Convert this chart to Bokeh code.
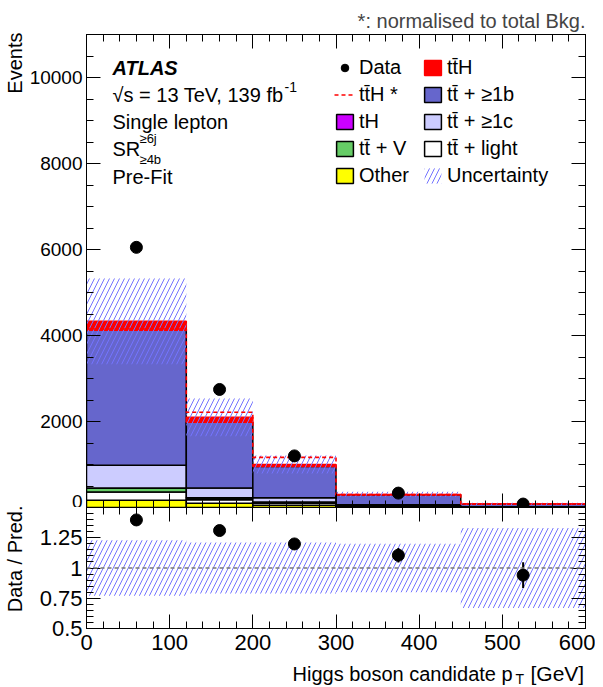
import numpy as np
from bokeh.plotting import figure
from bokeh.layouts import column, row
from bokeh.models import (ColumnDataSource, Range1d, LinearAxis, SingleIntervalTicker,
                          FixedTicker, Label, Legend, LegendItem, Span, Title)
from bokeh.embed import file_html
from bokeh.resources import INLINE

# ---------------- data ----------------
edges = [0, 120, 200, 300, 450, 600]
other = [170, 100, 50, 15, 4]
tt_light = [190, 80, 50, 15, 3]
ttv = [85, 40, 25, 8, 2]
th = [10, 6, 4, 2, 1]
ttc = [525, 230, 100, 25, 5]
ttb = [3140, 1525, 727, 224, 64]
tth = [210, 115, 45, 14, 6]
tth_star = [4150, 2214, 1165, 300, 82]
data = [6050, 2745, 1200, 335, 80]
data_err = [78, 52, 35, 18, 9]
unc_rel = [0.23, 0.21, 0.21, 0.20, 0.33]

FONT = "Liberation Sans"
HATCH = "#7373ff"

left = np.array(edges[:-1], dtype=float)
right = np.array(edges[1:], dtype=float)
centers = (left + right) / 2

components = [
    ("Other", other, "#ffff00", "black"),
    ("tt\u0304 + light", tt_light, "#ffffff", "black"),
    ("tt\u0304 + V", ttv, "#66cc66", "black"),
    ("tH", th, "#cc00ff", "black"),
    ("tt\u0304 + \u22651c", ttc, "#ccccff", "black"),
    ("tt\u0304 + \u22651b", ttb, "#6666cc", "black"),
    ("tt\u0304H", tth, "#ff0000", "#ff0000"),
]

STRIP = 25          # width of the left strip holding the rotated axis titles
W = 595 - STRIP     # width of the panels
FL, FR, FT, FB = 86.0, 585.0, 34.0, 507.0   # frame, page pixels (text placement only)


def mx(px):
    return (px - FL) / (FR - FL) * 600.0


def my(py):
    return (FB - py) / (FB - FT) * 11000.0


def style_axis(ax, ticker, labels, size="19px", standoff=4):
    ax.ticker = ticker
    ax.major_tick_in = 14
    ax.major_tick_out = 0
    ax.minor_tick_in = 7
    ax.minor_tick_out = 0
    ax.axis_line_color = "black"
    ax.major_tick_line_color = "black"
    ax.minor_tick_line_color = "black"
    ax.axis_line_width = 1
    if labels:
        ax.major_label_text_font = FONT
        ax.major_label_text_font_size = size
        ax.major_label_text_color = "black"
        ax.major_label_standoff = standoff
    else:
        ax.major_label_text_font_size = "0px"
        ax.major_label_text_color = None
        ax.major_label_standoff = 0


def add_text(fig, x, y, text, size="20px", style="normal", align="left", angle=0):
    fig.add_layout(Label(x=x, y=y, text=text, text_font=FONT, text_font_size=size,
                         text_font_style=style, text_align=align, text_baseline="middle",
                         text_color="black", angle=angle))


def blank(fig):
    fig.grid.visible = False
    fig.outline_line_color = None
    fig.background_fill_color = "white"
    fig.border_fill_color = "white"


# ---------------- main panel ----------------
p = figure(width=W, height=507, x_range=Range1d(0, 600), y_range=Range1d(0, 11000),
           output_backend="svg", toolbar_location=None,
           min_border_left=int(FL) - STRIP, min_border_right=10, min_border_top=34,
           min_border_bottom=0)
p.grid.visible = False
p.outline_line_color = "black"
p.background_fill_color = "white"
p.border_fill_color = "white"

xt = SingleIntervalTicker(interval=100, num_minor_ticks=5)
yt = SingleIntervalTicker(interval=2000, num_minor_ticks=4)
style_axis(p.xaxis[0], xt, False)
style_axis(p.yaxis[0], yt, True)
ax_top = LinearAxis()
style_axis(ax_top, xt, False)
p.add_layout(ax_top, "above")
ax_right = LinearAxis()
style_axis(ax_right, yt, False)
p.add_layout(ax_right, "right")

p.add_layout(Title(text="*: normalised to total Bkg.", align="right", text_font=FONT,
                   text_font_size="20px", text_font_style="normal", standoff=6), "above")

bottom = np.zeros(len(left))
renderers = {}
for name, vals, col, lcol in components:
    top = bottom + np.array(vals, dtype=float)
    src = ColumnDataSource(dict(left=left, right=right, bottom=bottom.copy(), top=top))
    rr = p.quad(left="left", right="right", bottom="bottom", top="top", source=src,
                fill_color=col, line_color=lcol, line_width=1.5)
    renderers[name] = rr
    bottom = top

pred = bottom.copy()
unc_abs = pred * np.array(unc_rel)
r_unc = p.quad(left=left, right=right, bottom=pred - unc_abs, top=pred + unc_abs,
               fill_alpha=0, line_alpha=0, hatch_pattern="/", hatch_color=HATCH,
               hatch_scale=10, hatch_weight=1)

r_star = p.step(x=edges, y=list(tth_star) + [tth_star[-1]], mode="after",
                line_color="#ff0000", line_dash="4 3", line_width=1.6)

data_arr = np.array(data, dtype=float)
err_arr = np.array(data_err, dtype=float)
p.segment(centers, data_arr - err_arr, centers, data_arr + err_arr, line_color="black", line_width=2)
r_data = p.scatter(centers, data_arr, size=12, color="black")

leg_style = dict(glyph_width=21, glyph_height=19, label_height=19, spacing=4, label_standoff=4,
                 padding=0, margin=0, border_line_alpha=0, background_fill_alpha=0,
                 label_text_font=FONT, label_text_font_size="20px", label_text_color="black")
leg1 = Legend(items=[LegendItem(label="Data", renderers=[r_data]),
                     LegendItem(label="tt\u0304H *", renderers=[r_star]),
                     LegendItem(label="tH", renderers=[renderers["tH"]]),
                     LegendItem(label="tt\u0304 + V", renderers=[renderers["tt\u0304 + V"]]),
                     LegendItem(label="Other", renderers=[renderers["Other"]])],
              location=(334 - FL, 320), **leg_style)
leg2 = Legend(items=[LegendItem(label="tt\u0304H", renderers=[renderers["tt\u0304H"]]),
                     LegendItem(label="tt\u0304 + \u22651b", renderers=[renderers["tt\u0304 + \u22651b"]]),
                     LegendItem(label="tt\u0304 + \u22651c", renderers=[renderers["tt\u0304 + \u22651c"]]),
                     LegendItem(label="tt\u0304 + light", renderers=[renderers["tt\u0304 + light"]]),
                     LegendItem(label="Uncertainty", renderers=[r_unc])],
              location=(422 - FL, 320), **leg_style)
p.add_layout(leg1)
p.add_layout(leg2)

add_text(p, mx(112), my(67), "ATLAS", style="bold italic")
add_text(p, mx(112), my(94), "\u221as = 13 TeV, 139 fb")
add_text(p, mx(284), my(86), "-1", size="14px")
add_text(p, mx(112), my(121), "Single lepton")
add_text(p, mx(112), my(148), "SR")
add_text(p, mx(139), my(138), "\u22656j", size="13px")
add_text(p, mx(139), my(159), "\u22654b", size="13px")
add_text(p, mx(112), my(176), "Pre-Fit")

# ---------------- ratio panel ----------------
r = figure(width=W, height=153, x_range=p.x_range, y_range=Range1d(0.5, 1.5),
           output_backend="svg", toolbar_location=None,
           min_border_left=int(FL) - STRIP, min_border_right=10, min_border_top=0,
           min_border_bottom=32)
r.grid.visible = False
r.outline_line_color = "black"
r.background_fill_color = "white"
r.border_fill_color = "white"

rt = FixedTicker(ticks=[0.5, 0.75, 1.0, 1.25, 1.5],
                 minor_ticks=list(np.round(np.arange(0.5, 1.5001, 0.05), 3)))
style_axis(r.xaxis[0], xt, True, size="22px", standoff=6)
style_axis(r.yaxis[0], rt, True, size="22px")
r.yaxis[0].major_label_overrides = {1.5: ""}
rax_top = LinearAxis()
style_axis(rax_top, xt, False)
r.add_layout(rax_top, "above")
rax_right = LinearAxis()
style_axis(rax_right, rt, False)
r.add_layout(rax_right, "right")

ur = np.array(unc_rel)
r.quad(left=left, right=right, bottom=1 - ur, top=1 + ur, fill_alpha=0, line_alpha=0,
       hatch_pattern="/", hatch_color=HATCH, hatch_scale=10, hatch_weight=1)
r.add_layout(Span(location=1.0, dimension="width", line_color="#777777", line_dash="4 3",
                  line_width=1.5))
ratio = data_arr / pred
ratio_err = err_arr / pred
r.segment(centers, ratio - ratio_err, centers, ratio + ratio_err, line_color="black", line_width=2)
r.scatter(centers, ratio, size=12, color="black")

# ---------------- x-axis title strip (its frame is aligned with the panels above) -------------
c = figure(width=W, height=27, x_range=Range1d(0, 600), y_range=Range1d(0, 27),
           output_backend="svg", toolbar_location=None, x_axis_location=None,
           y_axis_location=None, min_border=0)
blank(c)
add_text(c, mx(292), 14, "Higgs boson candidate p", size="20px")
add_text(c, mx(515), 9, "T", size="14px")
add_text(c, mx(530), 14, "[GeV]", size="21px")

# ---------------- left strip with the rotated y-axis titles (pixel coordinates) ----------------
s = figure(width=STRIP, height=687, x_range=Range1d(0, STRIP), y_range=Range1d(0, 687),
           output_backend="svg", toolbar_location=None, x_axis_location=None,
           y_axis_location=None, min_border=0)
blank(s)
add_text(s, 14, 687 - 32, "Events", align="right", angle=np.pi / 2)
add_text(s, 14, 687 - 505, "Data / Pred.", align="right", angle=np.pi / 2)

layout = row(s, column(p, r, c, spacing=0), spacing=0)
open("out.html", "w").write(file_html(layout, INLINE))
